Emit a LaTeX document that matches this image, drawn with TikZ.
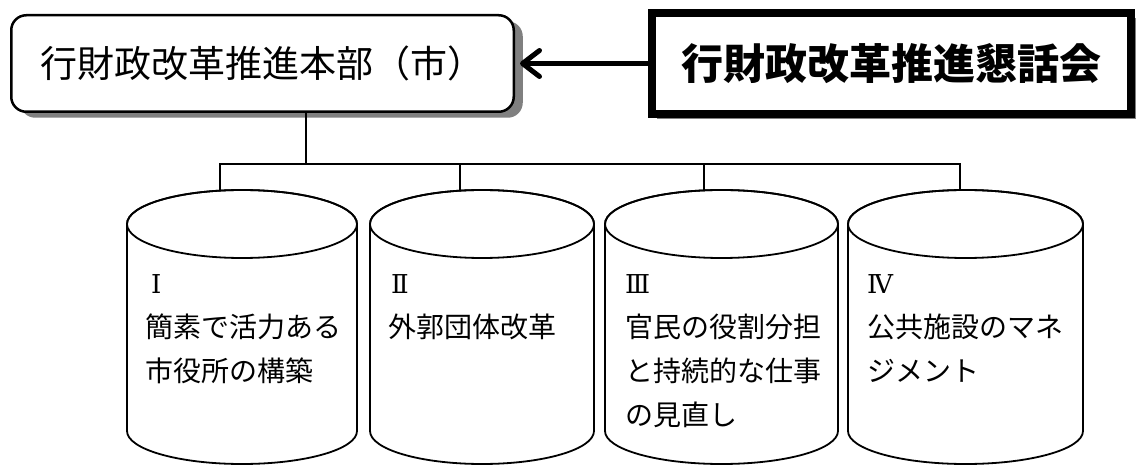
\documentclass[tikz,border=0pt]{standalone}
\usepackage{fontspec}
\newfontfamily\jp{Noto Sans CJK JP}
\newfontfamily\romfont{DejaVu Serif}
\newcommand\numfont{\romfont\fontsize{26}{26}\selectfont}
\usetikzlibrary{shadows,arrows.meta}
\begin{document}
\begin{tikzpicture}[x=1pt,y=1pt,
  hqbox/.style={draw, line width=2.5pt, rounded corners=15pt, fill=white,
    minimum width=502.5pt, minimum height=96.5pt, inner sep=0pt,
    font=\jp\fontsize{37}{40}\selectfont,
    drop shadow={shadow xshift=9pt, shadow yshift=-6pt, fill=black!50, opacity=1}},
  councilbox/.style={draw, line width=8pt, fill=white, miter limit=10,
    minimum width=479pt, minimum height=101pt, inner sep=0pt,
    font=\jp\bfseries\fontsize{42}{46}\selectfont,
    drop shadow={shadow xshift=5pt, shadow yshift=-5pt, fill=black!50, opacity=1}},
  conn/.style={line width=1.8pt},
  cyl/.style={line width=1.8pt},
  cylbody/.style={inner sep=0pt, minimum height=274pt},
  cyltext/.style={anchor=base west, align=left, inner sep=0pt,
    font=\jp\fontsize{28}{44}\selectfont},
  arr/.style={line width=5pt, -{Straight Barb[length=17pt, width=26pt, line width=5pt, round]}}
]
\useasboundingbox (0,0) rectangle (1141,464);

% top boxes
\node[hqbox] (hq) at (262.5,400.5) {行財政改革推進本部（市）};
\node[councilbox] (council) at (891.5,400.5) {行財政改革推進懇話会};
\coordinate (tip) at (520,400.5);
\draw[arr] (council.west) -- (tip);

% cylinders
\foreach \i/\L/\R in {1/127/357, 2/370/594, 3/605/838, 4/848/1083}{
  \pgfmathsetmacro{\cx}{(\L+\R)/2}
  \pgfmathsetmacro{\rx}{(\R-\L)/2}
  \node[cylbody, minimum width=\R-\L] (c\i) at (\cx,137) {};
  \draw[cyl, fill=white] (\L,240) -- (\L,33)
     arc[start angle=180, end angle=360, x radius=\rx, y radius=33] -- (\R,240)
     arc[start angle=0, end angle=180, x radius=\rx, y radius=34] -- cycle;
  \draw[cyl] (\cx,240) ellipse[x radius=\rx, y radius=34];
}

% connectors
\coordinate (bus) at (306,300);
\coordinate (d1) at (220,274);
\coordinate (d2) at (460,274);
\coordinate (d3) at (704,274);
\coordinate (d4) at (960,274);
\draw[conn] (hq.south -| bus) -- (bus);
\draw[conn] (d1) -- (d1 |- bus) -- (d4 |- bus) -- (d4);
\draw[conn] (d2 |- bus) -- (d2);
\draw[conn] (d3 |- bus) -- (d3);

% texts (anchor = baseline of the last line)
\node[cyltext] (t1) at (145,83) {{\numfont\hspace*{6pt}Ⅰ}\\簡素で活力ある\\市役所の構築};
\node[cyltext] (t2) at (388,127) {{\numfont\hspace*{3pt}Ⅱ}\\外郭団体改革};
\node[cyltext] (t3) at (625,39) {{\numfont Ⅲ}\\官民の役割分担\\と持続的な仕事\\の見直し};
\node[cyltext] (t4) at (867,83) {{\numfont Ⅳ}\\公共施設のマネ\\ジメント};
\end{tikzpicture}
\end{document}
